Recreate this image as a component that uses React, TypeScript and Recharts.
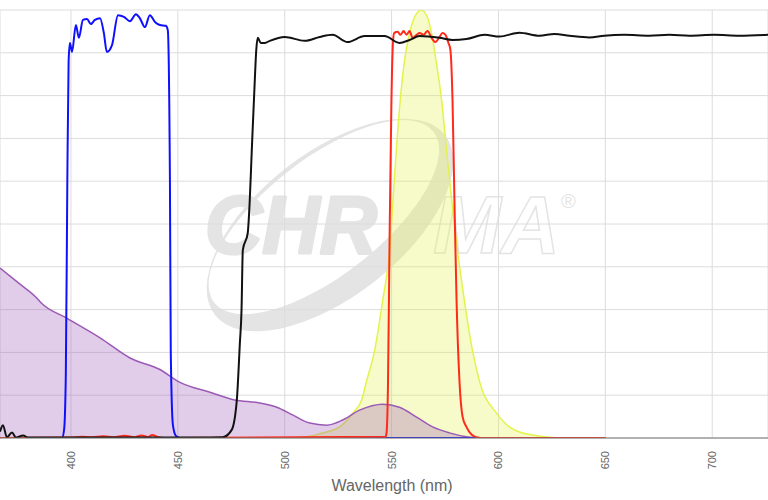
import React from "react";
import {
  Area,
  CartesianGrid,
  ComposedChart,
  Label,
  Line,
  XAxis,
  YAxis,
} from "recharts";

// wavelength (nm) / transmission (%) pairs
const purpleWl = [366.8, 376, 384, 386, 398, 413.6, 427.6, 441.6, 451, 465, 476.6, 488.3, 496.3, 503.7, 511.7, 519.6, 527.1, 535, 545.8, 553.7, 561.7, 569.2, 577.1, 585, 592.5, 600, 650];
const purpleVal = [39.7, 36, 32.7, 31.6, 28, 23.4, 18.7, 16, 13, 10.7, 8.9, 8.2, 7.2, 5.4, 3.5, 3, 4.2, 6.5, 7.9, 7.2, 4.9, 2.6, 1.2, 0.3, 0, 0, 0];

const yellowWl = [500, 510.3, 516.4, 525.7, 531.8, 536, 538.3, 542, 545.8, 549.1, 551.5, 553.7, 556, 558.4, 561, 563.9, 566.5, 568.7, 571, 573.4, 575.7, 580.8, 584.1, 587.9, 591.1, 599.1, 605.1, 609.8, 615.9, 623.8, 633.2, 650];
const yellowVal = [0, 0.3, 1, 2.6, 5.8, 8.9, 13.3, 20.3, 32, 43.9, 62, 77, 88, 94.6, 98.6, 100, 98.6, 94.6, 87.5, 79, 67.3, 43.9, 32, 20.3, 13.3, 5.8, 2.6, 1.4, 0.7, 0.2, 0, 0];

const blueWl = [366.8, 395.8, 396.8, 397.6, 398.3, 398.9, 399.5, 400.5, 402.3, 403.7, 405.6, 407.5, 409.3, 411.2, 413.6, 415.4, 416.8, 419.2, 422, 424.8, 427.6, 430.4, 432.2, 434.6, 436.9, 439.3, 441.6, 444.4, 445.3, 446.3, 446.7, 447.7, 449.1, 451, 650];
const blueVal = [0, 0, 2, 15, 60, 88, 92.3, 90.2, 96.5, 93.5, 97.7, 97.9, 96.7, 97.7, 98.1, 94.6, 90.2, 91.8, 98.8, 98.4, 97.4, 99, 98.1, 96, 98.8, 97.2, 96.5, 96.3, 95.3, 60, 20, 3, 0.5, 0, 0];

const redWl = [366.8, 400, 405, 410, 415, 420, 425, 430, 433, 436, 438, 441, 445, 547.2, 547.7, 548.3, 549.1, 549.9, 550.6, 551.2, 552.8, 554.2, 555.6, 557, 558.4, 559.8, 561.7, 563.1, 565, 566.8, 568.7, 570.5, 572.4, 573.8, 575.2, 576.6, 577.5, 578.5, 579.4, 580.4, 581.8, 583.2, 585, 587.4, 589.7, 593.5, 650];
const redVal = [0, 0.1, 0.3, 0.2, 0.4, 0.2, 0.5, 0.2, 0.6, 0.2, 0.7, 0.2, 0, 0.3, 1.5, 12, 48, 78, 92, 94.6, 94.9, 94.2, 95.1, 94.2, 95.1, 93.5, 94.2, 94.6, 94.2, 95.1, 93.5, 92.5, 93.7, 94.6, 94.2, 92.3, 90.7, 79, 55.6, 32, 12.9, 5, 2.6, 0.8, 0.2, 0, 0];

const blackWl = [366.8, 368.2, 370, 372.4, 374.3, 377.6, 380, 400, 420, 440, 460, 471, 475.2, 477.6, 479, 479.8, 480.4, 482.7, 483.6, 484.6, 486, 486.7, 487.4, 488.8, 490.7, 493, 500, 509.3, 516.4, 522.4, 529.4, 537.4, 546.7, 553.7, 558.4, 563.1, 572.4, 578.5, 585, 593.5, 600.5, 609.8, 619.2, 626.2, 633.2, 642.5, 649.5, 658.9, 670.6, 679.9, 689.3, 701, 712.6, 726.1];
const blackVal = [1.5, 3, 0.2, 1.3, 0.1, 0.6, 0.1, 0.1, 0.1, 0.1, 0.1, 0.2, 1.9, 8.9, 22, 30, 43.9, 47.9, 55, 67.3, 83.6, 90.7, 93.5, 92.3, 92.3, 92.8, 93.7, 92.8, 93.7, 94.2, 92.5, 93.9, 93.9, 92.3, 93, 93.9, 93.5, 93, 93.2, 94.2, 93.8, 94.7, 94, 94.4, 94, 93.6, 94, 94.2, 94, 94.2, 94, 94.2, 94, 94.2];

const xTicks = [400, 450, 500, 550, 600, 650, 700];
const yTicks = [0, 10, 20, 30, 40, 50, 60, 70, 80, 90, 100];

const rows = (wl: number[], val: number[]) => wl.map((nm, i) => ({ nm, v: val[i] }));

function WlTick({ x, y, payload }: any) {
  return (
    <text
      x={x}
      y={y}
      transform={`rotate(-90 ${x} ${y})`}
      textAnchor="end"
      dominantBaseline="central"
      fill="#666"
      fontSize={11}
    >
      {payload.value}
    </text>
  );
}

function Watermark() {
  const gray = "#e4e4e4";
  return (
    <svg width={768} height={500} style={{ position: "absolute", left: 0, top: 0 }}>
      <g transform="translate(330 225) rotate(-38)">
        <path
          fillRule="evenodd"
          fill={gray}
          d="M -146 0 A 146 72 0 1 0 146 0 A 146 72 0 1 0 -146 0 Z M -139 -10 A 139 58 0 1 0 139 -10 A 139 58 0 1 0 -139 -10 Z"
        />
      </g>
      <text
        x={205}
        y={253}
        fontSize={82}
        fontWeight="bold"
        fontStyle="italic"
        fill={gray}
        stroke={gray}
        strokeWidth={3}
        strokeLinejoin="round"
        textLength={172}
        lengthAdjust="spacingAndGlyphs"
      >
        CHR
      </text>
      <text
        x={433}
        y={253}
        fontSize={82}
        fontWeight="bold"
        fontStyle="italic"
        fill="none"
        stroke={gray}
        strokeWidth={1.5}
        textLength={127}
        lengthAdjust="spacingAndGlyphs"
      >
        MA
      </text>
      <text x={561} y={208} fontSize={20} fill={gray}>
        ®
      </text>
    </svg>
  );
}

export default function App() {
  return (
    <div
      style={{
        position: "relative",
        width: 768,
        height: 500,
        fontFamily: "'Liberation Sans', Arial, sans-serif",
      }}
    >
      <style>{"body{margin:0}"}</style>
      <Watermark />
      <div style={{ position: "absolute", left: 0, top: 0 }}>
        <ComposedChart width={768} height={500} margin={{ top: 10, right: 0, bottom: 0, left: 0 }}>
          <CartesianGrid stroke="#dcdcdc" />
          <XAxis
            dataKey="nm"
            type="number"
            domain={[366.8, 726.1]}
            allowDataOverflow
            ticks={xTicks}
            tick={<WlTick />}
            tickLine={false}
            tickMargin={7}
            height={62}
            axisLine={{ stroke: "#777" }}
          >
            <Label value="Wavelength (nm)" position="insideBottom" offset={9} dx={8} fill="#666" fontSize={16} />
          </XAxis>
          <YAxis hide type="number" domain={[0, 100]} ticks={yTicks} allowDataOverflow />
          <Area
            data={rows(yellowWl, yellowVal)}
            dataKey="v"
            type="monotone"
            stroke="#e3f34c"
            strokeWidth={1.5}
            fill="#e3f34c"
            fillOpacity={0.3}
            dot={false}
            activeDot={false}
            isAnimationActive={false}
          />
          <Area
            data={rows(purpleWl, purpleVal)}
            dataKey="v"
            type="monotone"
            stroke="#9b59b6"
            strokeWidth={1.5}
            fill="#9b59b6"
            fillOpacity={0.3}
            dot={false}
            activeDot={false}
            isAnimationActive={false}
          />
          <Line
            data={rows(blueWl, blueVal)}
            dataKey="v"
            type="monotone"
            stroke="#1010ff"
            strokeWidth={2}
            dot={false}
            activeDot={false}
            isAnimationActive={false}
          />
          <Line
            data={rows(redWl, redVal)}
            dataKey="v"
            type="monotone"
            stroke="#ff2a1a"
            strokeWidth={2}
            dot={false}
            activeDot={false}
            isAnimationActive={false}
          />
          <Line
            data={rows(blackWl, blackVal)}
            dataKey="v"
            type="monotone"
            stroke="#111"
            strokeWidth={2}
            dot={false}
            activeDot={false}
            isAnimationActive={false}
          />
        </ComposedChart>
      </div>
    </div>
  );
}
